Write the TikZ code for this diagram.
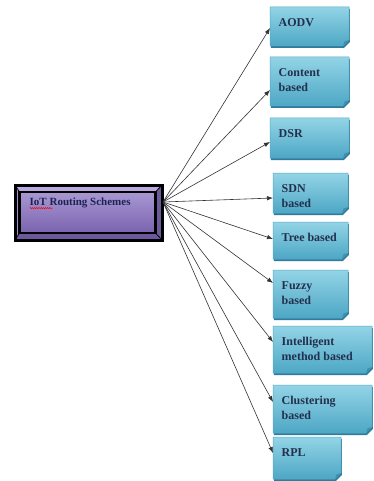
\documentclass[tikz,border=0pt]{standalone}
\usepackage{fontspec}
\setmainfont{Liberation Serif}
\usetikzlibrary{arrows.meta,decorations.pathmorphing}
\definecolor{leaftop}{HTML}{93D4E6}
\definecolor{leafbot}{HTML}{4DA7C5}
\definecolor{leafedge}{HTML}{5AA9C6}
\definecolor{leafshadow}{HTML}{2F7C9C}
\definecolor{leaffold}{HTML}{3C8FB0}
\definecolor{leafink}{HTML}{23304D}
\definecolor{mainink}{HTML}{1B2450}
\definecolor{purtop}{HTML}{A897D3}
\definecolor{purbot}{HTML}{7A63AF}
\definecolor{bevlight}{HTML}{B8A8DE}
\definecolor{bevdark}{HTML}{6D589F}
\definecolor{arrowcol}{HTML}{333333}
\tikzset{
  leafbox/.style={rectangle, draw=none, inner sep=0pt, outer sep=0pt},
  leaftext/.style={inner sep=0pt, align=left, text=leafink, font=\fontsize{12}{15}\selectfont\bfseries},
  mainbox/.style={rectangle, draw=none, inner sep=0pt, outer sep=0pt},
  maintext/.style={inner sep=0pt, text=mainink, font=\fontsize{11}{12}\selectfont\bfseries},
  arr/.style={draw=arrowcol, line width=0.6pt, -{Latex[length=6pt,width=4.5pt]}}
}
\newcommand\leaf[7]{%
  \pgfmathsetmacro\lw{#4-#2}\pgfmathsetmacro\lh{#5-#3}%
  \node[leafbox, minimum width=\lw pt, minimum height=\lh pt, anchor=north west] (#1) at (#2,#3) {};
  \fill[leafshadow] ([xshift=0.8pt,yshift=-2pt]#1.north west) -- ([xshift=0.8pt,yshift=-2pt]#1.north east)
     -- ([xshift=0.8pt,yshift=4pt]#1.south east) -- ([xshift=-5.2pt,yshift=-2pt]#1.south east)
     -- ([xshift=0.8pt,yshift=-2pt]#1.south west) -- cycle;
  \shadedraw[top color=leaftop, bottom color=leafbot, draw=leafedge, line width=0.5pt]
     (#1.north west) -- (#1.north east) -- ([yshift=6pt]#1.south east)
     -- ([xshift=-6pt]#1.south east) -- (#1.south west) -- cycle;
  \fill[leaffold] ([yshift=6pt]#1.south east) -- ([xshift=-6pt]#1.south east)
     -- ([xshift=-4.5pt,yshift=4.5pt]#1.south east) -- cycle;
  \node[leaftext, anchor=north west] (#1T) at ([xshift=8.5pt,yshift=-11pt]#1.north west) {#6};
  \coordinate (#1In) at (#2,#7);
}
\begin{document}
\begin{tikzpicture}[x=1pt,y=-1pt]
\useasboundingbox[fill=white] (0,0) rectangle (373,481);

% main box
\node[mainbox, minimum width=149pt, minimum height=57pt, anchor=north west] (main) at (14,184) {};
\fill[bevlight] (15,185) -- (162,185) -- (155.5,192) -- (19.5,192) -- cycle;
\fill[bevdark] (15,240) -- (162,240) -- (155.5,233) -- (19.5,233) -- cycle;
\fill[purtop!85!purbot] (15,185) -- (19.5,192) -- (19.5,233) -- (15,240) -- cycle;
\fill[purbot!90!black] (162,185) -- (155.5,192) -- (155.5,233) -- (162,240) -- cycle;
\shade[top color=purtop, bottom color=purbot] (19.5,192) rectangle (155.5,233);
\draw[black, line width=0.8pt] (15,185) -- (19.5,192) (162,185) -- (155.5,192)
   (15,240) -- (19.5,233) (162,240) -- (155.5,233);
\draw[black, line width=2.3pt] (19.5,192) rectangle (155.5,233);
\draw[black, line width=3pt] (15,185) rectangle (162,240);
\node[maintext, anchor=west] (mainT) at (29.5,203) {IoT Routing Schemes};
\draw[red, line width=0.5pt, decorate, decoration={snake, segment length=2.2pt, amplitude=0.6pt}]
   ([yshift=-2.5pt]mainT.base west) -- ([xshift=23pt,yshift=-2.5pt]mainT.base west);
\coordinate (hub) at ([yshift=10.5pt]main.east);

% leaves
\leaf{aodv}{270}{7}{349}{46}{AODV}{28}
\leaf{content}{270}{57}{349}{106}{Content\\based}{90}
\leaf{dsr}{270}{118}{349}{158}{DSR}{142}
\leaf{sdn}{273}{173}{348}{213}{SDN\\based}{198}
\leaf{tree}{273}{222}{348}{259}{Tree based}{239}
\leaf{fuzzy}{273}{270}{348}{318}{Fuzzy\\based}{283}
\leaf{intel}{273}{326}{372}{373}{Intelligent\\method based}{342}
\leaf{clust}{273}{385}{372}{433}{Clustering\\based}{402}
\leaf{rpl}{273}{437}{341}{479}{RPL}{453}

% connectors
\foreach \n in {aodv,content,dsr,sdn,tree,fuzzy,intel,clust,rpl}
  \draw[arr] (hub) -- (\n In);
\end{tikzpicture}
\end{document}
